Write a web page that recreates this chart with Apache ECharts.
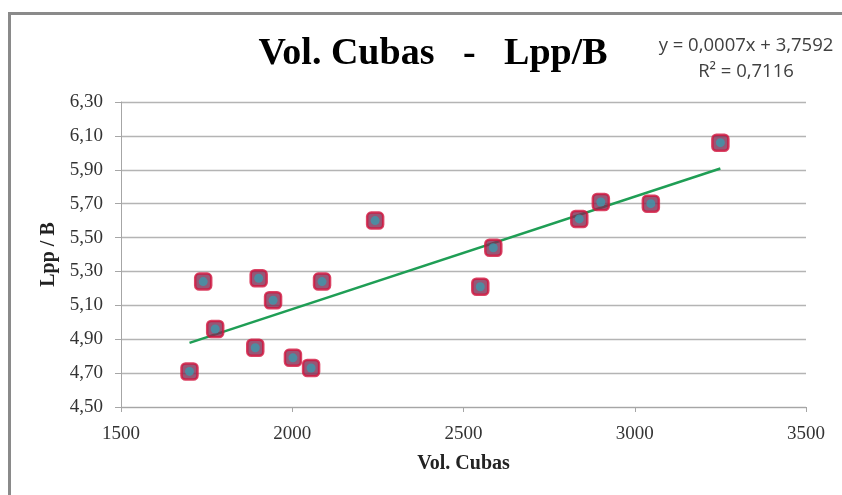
<!DOCTYPE html>
<html>
<head>
<meta charset="utf-8">
<script src="https://cdn.jsdelivr.net/npm/echarts@6/dist/echarts.min.js"></script>
<style>
html,body{margin:0;padding:0;background:#fff;}
#chart{width:842px;height:495px;}
</style>
</head>
<body>
<div id="chart"></div>
<script>
const volCubas = [1700,1740,1775,1892,1902,1944,2002,2055,2087,2242,2549,2587,2838,2901,3047,3250];
const lppB     = [4.71,5.24,4.96,4.85,5.26,5.13,4.79,4.73,5.24,5.60,5.21,5.44,5.61,5.71,5.70,6.06];
const titleText = 'Vol. Cubas   -   Lpp/B';
const equationText = 'y = 0,0007x + 3,7592';
const r2Text = 'R\u00B2 = 0,7116';
const xName = 'Vol. Cubas';
const yName = 'Lpp / B';

// least-squares trend line computed from the data arrays
const n = volCubas.length;
const mx = volCubas.reduce((a,b)=>a+b,0)/n;
const my = lppB.reduce((a,b)=>a+b,0)/n;
let sxy = 0, sxx = 0;
for (let i=0;i<n;i++){ sxy += (volCubas[i]-mx)*(lppB[i]-my); sxx += (volCubas[i]-mx)**2; }
const slope = sxy/sxx, icpt = my - slope*mx;
const xMin = Math.min(...volCubas), xMax = Math.max(...volCubas);
const trend = [[xMin, icpt+slope*xMin],[xMax, icpt+slope*xMax]];

const pts = volCubas.map((x,i)=>[x,lppB[i]]);

const chart = echarts.init(document.getElementById('chart'), null, {renderer:'canvas'});
chart.setOption({
  backgroundColor:'#ffffff',
  animation:false,
  title:{
    text:titleText, left:428, top:30, textAlign:'center',
    textStyle:{fontFamily:'Liberation Serif', fontWeight:'bold', fontSize:38, color:'#000'}
  },
  grid:{left:121, right:36, top:102, bottom:88},
  xAxis:{
    type:'value', min:1500, max:3500, interval:500,
    name:xName, nameLocation:'middle', nameGap:47,
    nameTextStyle:{fontFamily:'Liberation Serif', fontWeight:'bold', fontSize:20, color:'#222'},
    axisLine:{show:true, lineStyle:{color:'#a6a6a6', width:1}},
    axisTick:{show:true, length:5, lineStyle:{color:'#a6a6a6'}},
    axisLabel:{fontFamily:'Liberation Serif', fontSize:19, color:'#333', margin:18,
      formatter:v=>String(v)},
    splitLine:{show:false}
  },
  yAxis:{
    type:'value', min:4.5, max:6.3, interval:0.2,
    name:yName, nameLocation:'middle', nameGap:62, nameRotate:90,
    nameTextStyle:{fontFamily:'Liberation Serif', fontWeight:'bold', fontSize:20, color:'#222'},
    axisLine:{show:true, lineStyle:{color:'#a6a6a6', width:1}},
    axisTick:{show:true, length:6, lineStyle:{color:'#a6a6a6'}},
    axisLabel:{fontFamily:'Liberation Serif', fontSize:19, color:'#333', margin:18,
      formatter:v=>v.toFixed(2).replace('.',',')},
    splitLine:{show:true, lineStyle:{color:'#b4b4b4', width:1.3}}
  },
  series:[
    {type:'line', data:trend, symbol:'none', z:3,
     lineStyle:{color:'#1f9e55', width:2.5}},
    {type:'scatter', data:pts, symbol:'roundRect', symbolSize:16, z:4,
     itemStyle:{color:'#7e2c52', borderColor:'#d2153f', borderWidth:2.5}},
    {type:'scatter', data:pts, symbol:'circle', symbolSize:9, z:5,
     itemStyle:{color:'#3c98ac'}}
  ],
  graphic:[
    {type:'rect', shape:{x:8, y:12, width:836, height:3}, style:{fill:'#8a8a8a'}},
    {type:'rect', shape:{x:8, y:12, width:3, height:490}, style:{fill:'#8a8a8a'}},
    {type:'text', x:746, y:36, style:{text:equationText, fontFamily:'Open Sans', fontSize:18.5, fill:'#404040', textAlign:'center'}},
    {type:'text', x:746, y:62, style:{text:r2Text, fontFamily:'Open Sans', fontSize:18.5, fill:'#404040', textAlign:'center'}}
  ]
});
</script>
</body>
</html>
